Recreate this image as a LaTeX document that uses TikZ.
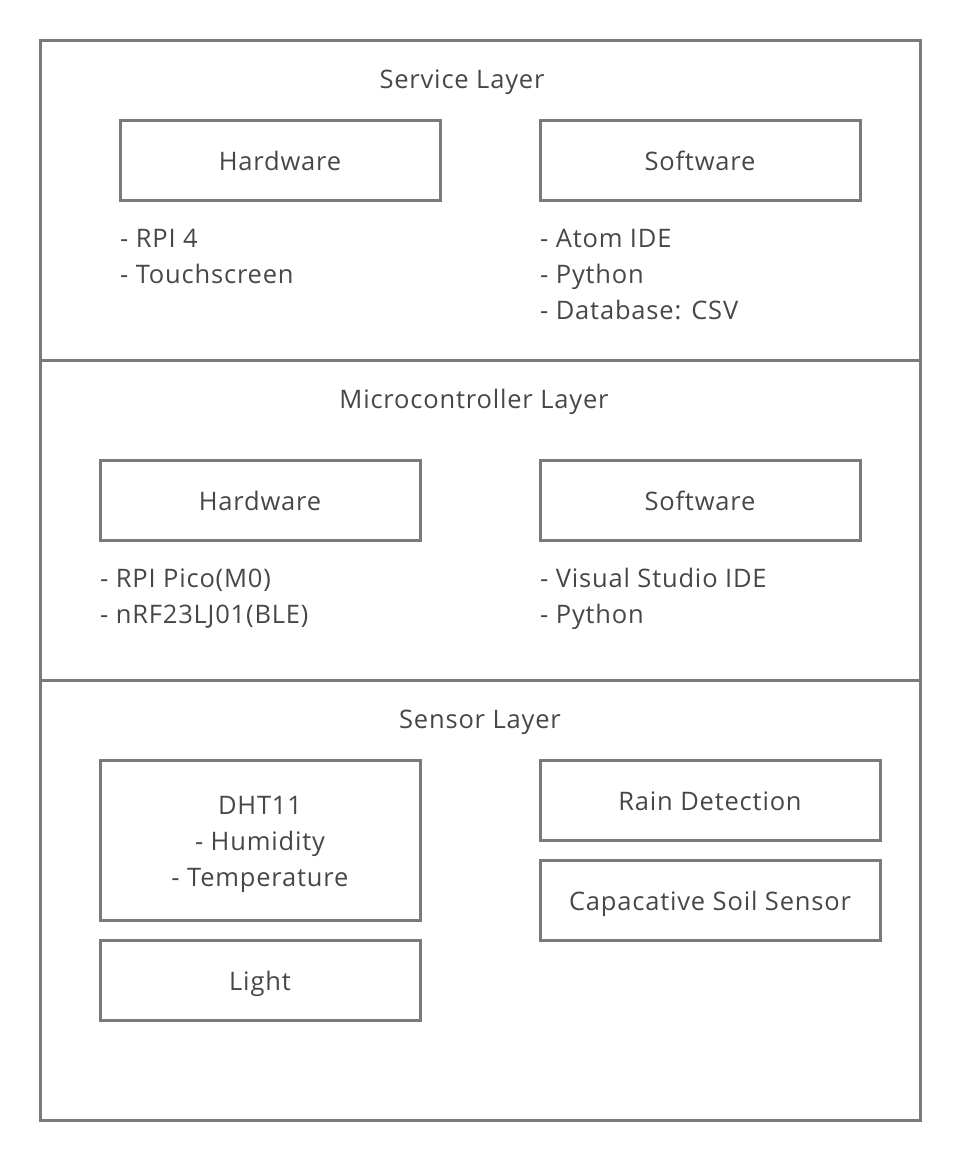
\documentclass[tikz,border=0pt]{standalone}
\usepackage{fontspec}
\setmainfont{Open Sans}[LetterSpace=3.2]
\definecolor{linegray}{HTML}{7A7A7A}
\definecolor{textgray}{HTML}{474747}
\newcommand{\topstrut}{\rule{0pt}{20pt}}
\begin{document}
\begin{tikzpicture}[x=1pt,y=-1pt,
  every node/.style={text=textgray, font=\fontsize{25.5}{36}\selectfont},
  box/.style={draw=linegray, line width=3pt, inner sep=0pt, align=center, text height=21pt, text depth=0pt},
  tallbox/.style={draw=linegray, line width=3pt, inner sep=0pt, align=center},
  lbl/.style={inner sep=0pt, anchor=base},
  lst/.style={inner sep=0pt, anchor=north west, align=left}
]
\useasboundingbox (0,0) rectangle (960,1160);
\draw[linegray, line width=3pt] (40,40) rectangle (920,1120);
\draw[linegray, line width=3pt] (40,360) -- (920,360);
\draw[linegray, line width=3pt] (40,680) -- (920,680);

% Service layer
\node[lbl] (svc) at (462,88.7) {Service Layer};
\node[box, minimum width=320pt, minimum height=80pt] (svchw) at (280,160) {Hardware};
\node[box, minimum width=320pt, minimum height=80pt] (svcsw) at (700,160) {Software};
\node[lst] (svchwl) at (120,227) {\topstrut- RPI 4\\- Touchscreen};
\node[lst] (svcswl) at (540,227) {\topstrut- Atom IDE\\- Python\\- Database: CSV};

% Microcontroller layer
\node[lbl] (mcu) at (474,408.7) {Microcontroller Layer};
\node[box, minimum width=320pt, minimum height=80pt] (mcuhw) at (260,500) {Hardware};
\node[box, minimum width=320pt, minimum height=80pt] (mcusw) at (700,500) {Software};
\node[lst] (mcuhwl) at (100,567) {\topstrut- RPI Pico(M0)\\- nRF23LJ01(BLE)};
\node[lst] (mcuswl) at (540,567) {\topstrut- Visual Studio IDE\\- Python};

% Sensor layer
\node[lbl] (sen) at (480,728.7) {Sensor Layer};
\node[tallbox, minimum width=320pt, minimum height=160pt] (dht) at (260,840) {\rule{0pt}{28.4pt}DHT11\\- Humidity\\- Temperature\rule[-7pt]{0pt}{7pt}};
\node[box, minimum width=320pt, minimum height=80pt] (light) at (260,980) {Light};
\node[box, minimum width=340pt, minimum height=80pt] (rain) at (710,800) {Rain Detection};
\node[box, minimum width=340pt, minimum height=80pt] (soil) at (710,900) {Capacative Soil Sensor};
\end{tikzpicture}
\end{document}
